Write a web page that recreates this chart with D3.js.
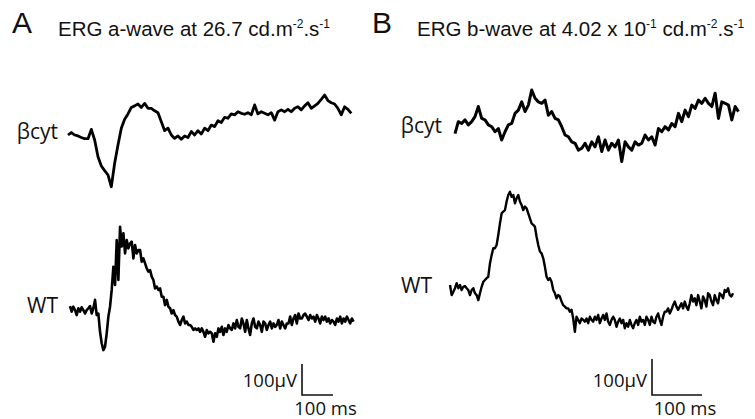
<!DOCTYPE html>
<html>
<head>
<meta charset="utf-8">
<script src="https://cdn.jsdelivr.net/npm/d3@7"></script>
<style>
  body { margin: 0; background: #fff; }
  #chart-container { width: 755px; height: 419px; }
  .trace { fill: none; stroke: #000; stroke-linejoin: round; }
  .label { font-family: "Open Sans", sans-serif; fill: #111; }
  .title { font-family: "Liberation Sans", Arial, sans-serif; fill: #111; }
</style>
</head>
<body>
<div id="chart-container"></div>
<script>
// ERG traces, in µV, one sample every dt ms
const aCyt = [
  0, 8, 0, -3, -8, -12, -12, 18, -16, -70,
  -100, -115, -129, -167, -91, -32, 22, 51, 68, 89,
  94, 100, 89, 102, 86, 86, 78, 72, 43, 14,
  22, 0, -11, -3, -14, -3, -8, 11, 0, 14,
  3, 22, 14, 32, 27, 46, 40, 57, 54, 68,
  65, 75, 70, 67, 72, 65, 97, 68, 75, 70,
  65, 72, 48, 75, 81, 75, 83, 75, 86, 91,
  81, 94, 104, 86, 94, 102, 115, 129, 111, 104,
  100, 86, 65, 91, 83, 70
];
const aWt = [
  2, -16, 0, -11, -27, -5, -16, -2, -11, -22,
  -11, -5, 2, -22, -5, 22, -27, -22, -81, -118,
  -140, -129, -86, -32, 0, 54, 129, 70, 215, 86,
  258, 194, 237, 172, 215, 188, 204, 210, 156, 199,
  172, 183, 183, 145, 156, 140, 124, 113, 118, 97,
  86, 59, 65, 54, 59, 32, 32, 5, 22, 0,
  -5, -22, -11, -27, -32, -48, -59, -43, -32, -54,
  -48, -59, -59, -65, -75, -70, -75, -70, -81, -70,
  -81, -97, -75, -86, -81, -86, -113, -86, -97, -70,
  -81, -65, -91, -70, -81, -59, -70, -75, -54, -70,
  -43, -65, -70, -38, -54, -81, -43, -70, -91, -54,
  -38, -65, -70, -48, -59, -81, -48, -54, -75, -59,
  -48, -70, -54, -65, -59, -43, -70, -48, -59, -70,
  -54, -54, -32, -59, -38, -27, -54, -22, -38, -38,
  -27, -22, -32, -43, -27, -38, -32, -48, -27, -38,
  -54, -32, -43, -32, -48, -38, -54, -43, -48, -59,
  -38, -48, -32, -54, -38, -48, -32, -43, -54, -38,
  -48
];
const bCyt = [
  -19, 14, 9, 19, 5, 14, 28, 56, 23, 19,
  5, 0, -14, -5, -37, -14, 5, 9, 37, 46,
  69, 42, 60, 102, 79, 69, 65, 74, 32, 42,
  23, 19, 0, -23, -28, -42, -46, -65, -60, -46,
  -65, -42, -56, -28, -69, -37, -65, -46, -56, -37,
  -97, -42, -56, -65, -42, -51, -46, -23, -37, -28,
  -51, -5, -14, 0, -9, 9, 0, 37, 14, 46,
  28, 60, 51, 74, 65, 79, 65, 56, 93, 23,
  69, 65, 60, 19, 56, 42
];
const bWt = [
  0, -28, -19, -9, 5, -9, 0, -14, -5, -3,
  -9, -14, -28, -14, -9, -23, -28, -42, -23, -5,
  9, 14, 19, 23, 60, 83, 102, 102, 111, 139,
  171, 199, 204, 208, 232, 250, 259, 245, 250, 227,
  241, 250, 232, 222, 208, 218, 213, 199, 185, 171,
  167, 162, 134, 111, 93, 88, 74, 51, 23, 14,
  19, 9, -14, -23, -37, -28, -32, -46, -56, -60,
  -65, -65, -74, -69, -93, -130, -88, -97, -106, -93,
  -97, -102, -93, -106, -88, -97, -102, -88, -97, -83,
  -106, -93, -83, -97, -79, -102, -111, -97, -88, -97,
  -116, -102, -93, -106, -97, -120, -106, -116, -97, -111,
  -120, -106, -97, -111, -88, -102, -97, -111, -88, -97,
  -111, -88, -102, -106, -88, -79, -97, -111, -88, -74,
  -74, -65, -79, -69, -56, -46, -60, -69, -60, -51,
  -65, -46, -60, -69, -51, -28, -46, -37, -56, -28,
  -46, -65, -32, -42, -60, -23, -28, -46, -56, -28,
  -42, -51, -23, -28, -37, -14, -19, -9, -28, -32,
  -23
];

// start time and sample interval (ms) for each trace
const aCytTime = { t0: 0, dt: 10.75 };
const aWtTime = { t0: 6.5, dt: 5.38 };
const bCytTime = { t0: 10, dt: 6.67 };
const bWtTime = { t0: 0, dt: 3.33 };

const scaleBarUV = 100;
const scaleBarMs = 100;

function renderChart() {
    d3.select("#chart-container svg").remove();

    const svg = d3.select("#chart-container")
        .append("svg")
        .attr("width", 755)
        .attr("height", 419);

    // panel A: 31px per 100 ms and per 100 µV
    const xA = d3.scaleLinear().domain([0, 100]).range([68, 99]);
    const yACyt = d3.scaleLinear().domain([0, 100]).range([135, 104]);
    const yAWt = d3.scaleLinear().domain([0, 100]).range([306.7, 275.7]);

    // panel B: 50px per 100 ms, 36px per 100 µV
    const xB = d3.scaleLinear().domain([0, 100]).range([450, 500]);
    const yBCyt = d3.scaleLinear().domain([0, 100]).range([126.7, 90.7]);
    const yBWt = d3.scaleLinear().domain([0, 100]).range([285, 249]);

    const drawTrace = (values, time, x, y, width) => {
        const line = d3.line()
            .x((d, i) => x(time.t0 + i * time.dt))
            .y(d => y(d));
        svg.append("path")
            .datum(values)
            .attr("class", "trace")
            .attr("stroke-width", width)
            .attr("d", line);
    };

    drawTrace(aCyt, aCytTime, xA, yACyt, 2.8);
    drawTrace(aWt, aWtTime, xA, yAWt, 2.6);
    drawTrace(bCyt, bCytTime, xB, yBCyt, 3);
    drawTrace(bWt, bWtTime, xB, yBWt, 2.4);

    // panel letters and titles
    const title = (letter, lx, parts, tx) => {
        svg.append("text")
            .attr("class", "title")
            .attr("x", lx).attr("y", 33)
            .style("font-size", "30px")
            .text(letter);
        const t = svg.append("text")
            .attr("class", "title")
            .attr("x", tx).attr("y", 36)
            .style("font-size", "20.5px");
        let raised = false;
        parts.forEach(p => {
            if (p.sup) {
                t.append("tspan").attr("dy", -8).style("font-size", "12px").text(p.sup);
                raised = true;
            } else {
                t.append("tspan").attr("dy", raised ? 8 : 0).text(p.txt);
                raised = false;
            }
        });
    };
    title("A", 12, [{txt: "ERG a-wave at 26.7 cd.m"}, {sup: "-2"}, {txt: ".s"}, {sup: "-1"}], 58);
    title("B", 372, [{txt: "ERG b-wave at 4.02 x 10"}, {sup: "-1"}, {txt: " cd.m"}, {sup: "-2"}, {txt: ".s"}, {sup: "-1"}], 417);

    // trace labels
    const labels = [
        {text: "βcyt", x: 58, y: 139},
        {text: "WT", x: 58, y: 313},
        {text: "βcyt", x: 442, y: 133},
        {text: "WT", x: 432, y: 293}
    ];
    labels.forEach(l => {
        svg.append("text")
            .attr("class", "label")
            .attr("x", l.x).attr("y", l.y)
            .attr("text-anchor", "end")
            .style("font-size", "21px")
            .text(l.text);
    });

    // scale bars
    const scaleBar = (x, yScale, ox, oy) => {
        const w = x(scaleBarMs) - x(0);
        const h = yScale(0) - yScale(scaleBarUV);
        svg.append("path")
            .attr("d", `M${ox},${oy - h}V${oy}H${ox + w}`)
            .attr("fill", "none")
            .attr("stroke", "#111")
            .attr("stroke-width", 1.6);
        svg.append("text")
            .attr("class", "label")
            .attr("x", ox - 5).attr("y", oy - 8)
            .attr("text-anchor", "end")
            .style("font-size", "18.5px")
            .text("100µV");
        svg.append("text")
            .attr("class", "label")
            .attr("x", ox + w / 2 + 8).attr("y", oy + 20)
            .attr("text-anchor", "middle")
            .style("font-size", "18.5px")
            .text("100 ms");
    };
    scaleBar(xA, yAWt, 302, 395);
    scaleBar(xB, yBWt, 652, 395);
}

renderChart();
</script>
</body>
</html>
